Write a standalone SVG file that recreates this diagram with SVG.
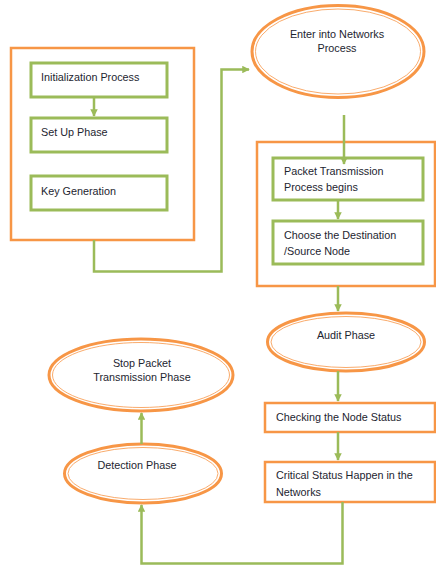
<svg xmlns="http://www.w3.org/2000/svg" width="436" height="567" viewBox="0 0 436 567">
<style>
.bg{fill:#fff}
.orect{fill:#fff;stroke:#f79646;stroke-width:2.5}
.grect{fill:#fff;stroke:#9bbb59;stroke-width:3}
.oel{fill:#fff;stroke:#f79646;stroke-width:3}
.oin{fill:none;stroke:#f79646;stroke-width:0.8}
.t{font-family:"Liberation Sans",Arial,sans-serif;font-size:10.8px;fill:#1d2530}
.c{text-anchor:middle}
.con{fill:none;stroke:#9bbb59;stroke-width:2.5}
</style>
<defs>
<marker id="ah" viewBox="0 0 10 10" refX="9" refY="5" markerWidth="3" markerHeight="3" orient="auto" markerUnits="strokeWidth">
<path d="M0,0 L10,5 L0,10 z" fill="#9bbb59"/>
</marker>
</defs>
<rect class="bg" width="436" height="567"/>

<g id="group-left">
<rect class="orect" x="11" y="48" width="183" height="192"/>
</g>
<g id="init">
<rect class="grect" x="31" y="63" width="136" height="34"/>
<text class="t" x="41" y="81">Initialization  Process</text>
</g>
<g id="setup">
<rect class="grect" x="31" y="118" width="136" height="34"/>
<text class="t" x="41" y="135.5">Set Up  Phase</text>
</g>
<g id="keygen">
<rect class="grect" x="31" y="176" width="136" height="34"/>
<text class="t" x="41" y="194.5">Key Generation</text>
</g>

<g id="enter">
<ellipse class="oel" cx="338" cy="51.5" rx="86" ry="46"/>
<ellipse class="oin" cx="338" cy="51.5" rx="82.5" ry="42.5"/>
<text class="t c" x="337" y="38">Enter into Networks</text>
<text class="t c" x="337" y="52">Process</text>
</g>

<g id="group-right">
<rect class="orect" x="257" y="142" width="178" height="144"/>
</g>
<g id="packet">
<rect class="grect" x="273" y="158" width="150" height="42"/>
<text class="t" x="284" y="175">Packet Transmission</text>
<text class="t" x="284" y="191">Process begins</text>
</g>
<g id="choose">
<rect class="grect" x="273" y="221" width="150" height="43"/>
<text class="t" x="284" y="239">Choose the  Destination</text>
<text class="t" x="284" y="255">/Source Node</text>
</g>

<g id="audit">
<ellipse class="oel" cx="346" cy="342" rx="78.5" ry="29"/>
<ellipse class="oin" cx="346" cy="342" rx="75" ry="25.5"/>
<text class="t c" x="346" y="339">Audit Phase</text>
</g>
<g id="checking">
<rect class="orect" x="265" y="403" width="170" height="29"/>
<text class="t" x="276" y="421">Checking the  Node Status</text>
</g>
<g id="critical">
<rect class="orect" x="265" y="462" width="170" height="40"/>
<text class="t" x="276" y="479">Critical Status  Happen  in the</text>
<text class="t" x="276" y="495.5">Networks</text>
</g>

<g id="detection">
<ellipse class="oel" cx="143" cy="473.5" rx="78.5" ry="29.5"/>
<ellipse class="oin" cx="143" cy="473.5" rx="75" ry="26"/>
<text class="t c" x="137" y="468.5">Detection Phase</text>
</g>
<g id="stop">
<ellipse class="oel" cx="141" cy="375" rx="92" ry="36"/>
<ellipse class="oin" cx="141" cy="375" rx="88.5" ry="32.5"/>
<text class="t c" x="142" y="366.5">Stop Packet</text>
<text class="t c" x="142" y="380.5">Transmission  Phase</text>
</g>

<g id="connectors">
<path class="con" d="M94,97 V116" marker-end="url(#ah)"/>
<path class="con" d="M94,240 V271.5 H221.5 V69.5 H249" marker-end="url(#ah)"/>
<path class="con" d="M344,115 V164" marker-end="url(#ah)"/>
<path class="con" d="M338,200 V219" marker-end="url(#ah)"/>
<path class="con" d="M338,286 V311" marker-end="url(#ah)"/>
<path class="con" d="M338,371 V401" marker-end="url(#ah)"/>
<path class="con" d="M338,432 V460" marker-end="url(#ah)"/>
<path class="con" d="M342.5,502 V563.5 H141.5 V505" marker-end="url(#ah)"/>
<path class="con" d="M141.5,444 V413" marker-end="url(#ah)"/>
</g>
</svg>
